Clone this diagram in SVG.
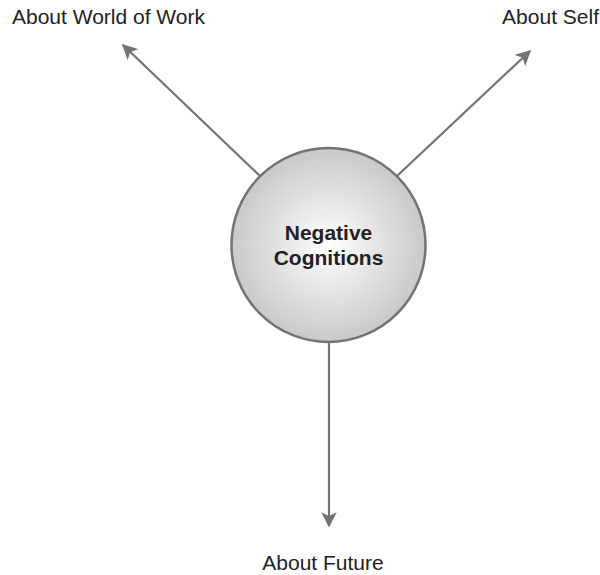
<svg xmlns="http://www.w3.org/2000/svg" width="600" height="575" viewBox="0 0 600 575">
<style>
.lbl{font-family:"Liberation Sans",Arial,sans-serif;font-size:21px;fill:#222}
.ctr{font-family:"Liberation Sans",Arial,sans-serif;font-size:21px;font-weight:bold;fill:#222;text-anchor:middle}
.conn{stroke:#737373;stroke-width:2.2;fill:none;marker-end:url(#ah)}
</style>
<defs>
<radialGradient id="g" cx="0.5" cy="0.5" r="0.5">
<stop offset="0" stop-color="#ffffff"/>
<stop offset="1" stop-color="#c9c9c9"/>
</radialGradient>
<marker id="ah" viewBox="0 0 10 10" refX="9" refY="5" markerWidth="7" markerHeight="7" markerUnits="strokeWidth" orient="auto">
<path d="M0,0 L10,5 L0,10 L2.5,5 z" fill="#737373"/>
</marker>
</defs>
<g id="connectors">
<line class="conn" x1="260" y1="176" x2="123" y2="45"/>
<line class="conn" x1="397" y1="176" x2="530" y2="51"/>
<line class="conn" x1="329" y1="342" x2="329" y2="526"/>
</g>
<g id="center">
<circle cx="328.5" cy="245" r="97" fill="url(#g)" stroke="#737373" stroke-width="2.5"/>
<text class="ctr" x="328.5" y="240">Negative</text>
<text class="ctr" x="328.5" y="265">Cognitions</text>
</g>
<g id="world"><text class="lbl" x="12" y="24">About World of Work</text></g>
<g id="self"><text class="lbl" x="599" y="24" text-anchor="end">About Self</text></g>
<g id="future"><text class="lbl" x="323" y="570" text-anchor="middle">About Future</text></g>
</svg>
